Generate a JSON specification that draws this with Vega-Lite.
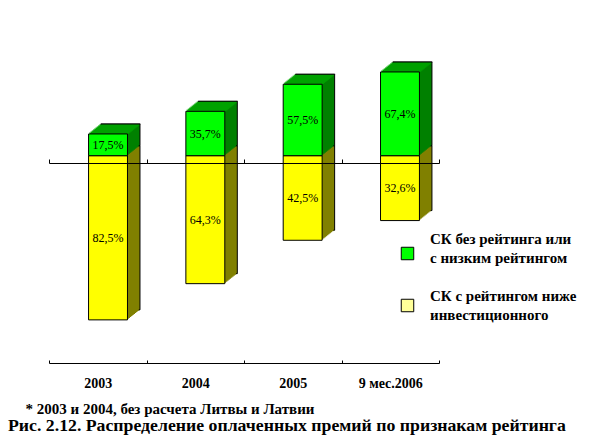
{
  "$schema": "https://vega.github.io/schema/vega-lite/v6.json",
  "width": 610,
  "height": 363,
  "autosize": {"type": "none"},
  "padding": {"left": 0, "top": 0, "right": 0, "bottom": 85},
  "config": {
    "view": {"stroke": null},
    "font": "Liberation Serif",
    "locale": {"number": {"decimal": ",", "thousands": "\u00a0", "grouping": [3], "currency": ["", "%"]}}
  },
  "title": {
    "text": "Рис. 2.12. Распределение оплаченных премий по признакам рейтинга",
    "orient": "bottom",
    "anchor": "start",
    "frame": "group",
    "offset": 1,
    "dx": 8,
    "font": "Liberation Serif",
    "fontSize": 17.75,
    "fontWeight": "bold",
    "color": "black"
  },
  "data": {
    "values": [
      {"year": "2003", "green": 17.5, "yellow": 82.5},
      {"year": "2004", "green": 35.7, "yellow": 64.3},
      {"year": "2005", "green": 57.5, "yellow": 42.5},
      {"year": "9 мес.2006", "green": 67.4, "yellow": 32.6}
    ]
  },
  "layer": [
    {
      "encoding": {
        "x": {"field": "year", "type": "nominal", "sort": null, "scale": {"range": [59.35, 448.65], "paddingInner": 0.6, "paddingOuter": 0.3}, "axis": null},
        "y": {"field": "yellow", "type": "quantitative", "scale": {"domain": [-78.24, 104.17], "reverse": true, "nice": false, "zero": false}, "axis": null},
        "y2": {"datum": 0}
      },
      "layer": [
        {"mark": {"type": "bar", "fill": "#808000", "stroke": "black", "strokeWidth": 1, "xOffset": 12.5, "x2Offset": 12.5, "yOffset": -10, "y2Offset": -10}},
        {"mark": {"type": "bar", "fill": "#808000", "xOffset": 11.25, "x2Offset": 11.25, "yOffset": -9, "y2Offset": -9}},
        {"mark": {"type": "bar", "fill": "#808000", "xOffset": 10, "x2Offset": 10, "yOffset": -8, "y2Offset": -8}},
        {"mark": {"type": "bar", "fill": "#808000", "xOffset": 8.75, "x2Offset": 8.75, "yOffset": -7, "y2Offset": -7}},
        {"mark": {"type": "bar", "fill": "#808000", "xOffset": 7.5, "x2Offset": 7.5, "yOffset": -6, "y2Offset": -6}},
        {"mark": {"type": "bar", "fill": "#808000", "xOffset": 6.25, "x2Offset": 6.25, "yOffset": -5, "y2Offset": -5}},
        {"mark": {"type": "bar", "fill": "#808000", "xOffset": 5, "x2Offset": 5, "yOffset": -4, "y2Offset": -4}},
        {"mark": {"type": "bar", "fill": "#808000", "xOffset": 3.75, "x2Offset": 3.75, "yOffset": -3, "y2Offset": -3}},
        {"mark": {"type": "bar", "fill": "#808000", "xOffset": 2.5, "x2Offset": 2.5, "yOffset": -2, "y2Offset": -2}},
        {"mark": {"type": "bar", "fill": "#808000", "xOffset": 1.25, "x2Offset": 1.25, "yOffset": -1, "y2Offset": -1}}
      ]
    },
    {
      "encoding": {
        "x": {"field": "year", "type": "nominal", "sort": null, "scale": {"range": [59.35, 448.65], "paddingInner": 0.6, "paddingOuter": 0.3}, "axis": null},
        "y": {"field": "green", "type": "quantitative", "scale": {"domain": [-166.84, 125.31], "nice": false, "zero": false}, "axis": null}
      },
      "layer": [
        {"mark": {"type": "bar", "fill": "#008000", "stroke": "black", "strokeWidth": 1, "xOffset": 12.5, "x2Offset": 12.5, "yOffset": -10, "y2Offset": -10}, "encoding": {"y2": {"datum": 0}}},
        {"mark": {"type": "bar", "fill": "#008000", "xOffset": 11.25, "x2Offset": 11.25, "yOffset": -9, "y2Offset": -9}, "encoding": {"y2": {"datum": 0}}},
        {"mark": {"type": "bar", "fill": "#008000", "xOffset": 10, "x2Offset": 10, "yOffset": -8, "y2Offset": -8}, "encoding": {"y2": {"datum": 0}}},
        {"mark": {"type": "bar", "fill": "#008000", "xOffset": 8.75, "x2Offset": 8.75, "yOffset": -7, "y2Offset": -7}, "encoding": {"y2": {"datum": 0}}},
        {"mark": {"type": "bar", "fill": "#008000", "xOffset": 7.5, "x2Offset": 7.5, "yOffset": -6, "y2Offset": -6}, "encoding": {"y2": {"datum": 0}}},
        {"mark": {"type": "bar", "fill": "#008000", "xOffset": 6.25, "x2Offset": 6.25, "yOffset": -5, "y2Offset": -5}, "encoding": {"y2": {"datum": 0}}},
        {"mark": {"type": "bar", "fill": "#008000", "xOffset": 5, "x2Offset": 5, "yOffset": -4, "y2Offset": -4}, "encoding": {"y2": {"datum": 0}}},
        {"mark": {"type": "bar", "fill": "#008000", "xOffset": 3.75, "x2Offset": 3.75, "yOffset": -3, "y2Offset": -3}, "encoding": {"y2": {"datum": 0}}},
        {"mark": {"type": "bar", "fill": "#008000", "xOffset": 2.5, "x2Offset": 2.5, "yOffset": -2, "y2Offset": -2}, "encoding": {"y2": {"datum": 0}}},
        {"mark": {"type": "bar", "fill": "#008000", "xOffset": 1.25, "x2Offset": 1.25, "yOffset": -1, "y2Offset": -1}, "encoding": {"y2": {"datum": 0}}},
        {"mark": {"type": "tick", "color": "#00aa00", "size": 40, "thickness": 1.6, "xOffset": 1.25, "yOffset": -1}},
        {"mark": {"type": "tick", "color": "#00aa00", "size": 40, "thickness": 1.6, "xOffset": 2.5, "yOffset": -2}},
        {"mark": {"type": "tick", "color": "#00aa00", "size": 40, "thickness": 1.6, "xOffset": 3.75, "yOffset": -3}},
        {"mark": {"type": "tick", "color": "#00aa00", "size": 40, "thickness": 1.6, "xOffset": 5, "yOffset": -4}},
        {"mark": {"type": "tick", "color": "#00aa00", "size": 40, "thickness": 1.6, "xOffset": 6.25, "yOffset": -5}},
        {"mark": {"type": "tick", "color": "#00aa00", "size": 40, "thickness": 1.6, "xOffset": 7.5, "yOffset": -6}},
        {"mark": {"type": "tick", "color": "#00aa00", "size": 40, "thickness": 1.6, "xOffset": 8.75, "yOffset": -7}},
        {"mark": {"type": "tick", "color": "#00aa00", "size": 40, "thickness": 1.6, "xOffset": 10, "yOffset": -8}},
        {"mark": {"type": "tick", "color": "#00aa00", "size": 40, "thickness": 1.6, "xOffset": 11.25, "yOffset": -9}},
        {"mark": {"type": "tick", "color": "black", "size": 40, "thickness": 1, "xOffset": 12.5, "yOffset": -10}}
      ]
    },
    {
      "mark": {"type": "bar", "fill": "#ffff00", "stroke": "black", "strokeWidth": 1},
      "encoding": {
        "x": {"field": "year", "type": "nominal", "sort": null, "scale": {"range": [59.35, 448.65], "paddingInner": 0.6, "paddingOuter": 0.3}, "axis": null},
        "y": {"field": "yellow", "type": "quantitative", "scale": {"domain": [-78.24, 104.17], "reverse": true, "nice": false, "zero": false}, "axis": null},
        "y2": {"datum": 0}
      }
    },
    {
      "mark": {"type": "bar", "fill": "#00ff00", "stroke": "black", "strokeWidth": 1},
      "encoding": {
        "x": {"field": "year", "type": "nominal", "sort": null, "scale": {"range": [59.35, 448.65], "paddingInner": 0.6, "paddingOuter": 0.3}, "axis": null},
        "y": {"field": "green", "type": "quantitative", "scale": {"domain": [-166.84, 125.31], "nice": false, "zero": false}, "axis": null},
        "y2": {"datum": 0}
      }
    },
    {
      "mark": {"type": "text", "font": "Liberation Serif", "fontSize": 12, "color": "black", "align": "center", "baseline": "middle"},
      "encoding": {
        "x": {"field": "year", "type": "nominal", "sort": null, "scale": {"range": [59.35, 448.65], "paddingInner": 0.6, "paddingOuter": 0.3}, "axis": null},
        "y": {"field": "yellow", "type": "quantitative", "scale": {"domain": [-156.48, 208.34], "reverse": true, "nice": false, "zero": false}, "axis": null},
        "text": {"field": "yellow", "type": "quantitative", "format": "$.1f"}
      }
    },
    {
      "mark": {"type": "text", "font": "Liberation Serif", "fontSize": 12, "color": "black", "align": "center", "baseline": "middle"},
      "encoding": {
        "x": {"field": "year", "type": "nominal", "sort": null, "scale": {"range": [59.35, 448.65], "paddingInner": 0.6, "paddingOuter": 0.3}, "axis": null},
        "y": {"field": "green", "type": "quantitative", "scale": {"domain": [-333.68, 250.62], "nice": false, "zero": false}, "axis": null},
        "text": {"field": "green", "type": "quantitative", "format": "$.1f"}
      }
    },
    {
      "mark": {"type": "point", "opacity": 0},
      "encoding": {
        "x": {"field": "year", "type": "nominal", "sort": null, "scale": {"range": [49, 439], "paddingInner": 0, "paddingOuter": 0},
          "axis": {"orient": "top", "offset": -163, "labels": false, "title": null, "tickBand": "extent", "tickSize": 4, "domainColor": "black", "tickColor": "black", "grid": false, "zindex": 1}}
      }
    },
    {
      "mark": {"type": "point", "opacity": 0},
      "encoding": {
        "x": {"field": "year", "type": "nominal", "sort": null, "scale": {"range": [49, 439], "paddingInner": 0, "paddingOuter": 0},
          "axis": {"orient": "bottom", "tickBand": "extent", "tickSize": -3, "labelAngle": 0, "labelPadding": 16,
            "labelFont": "Liberation Serif", "labelFontSize": 14, "labelFontWeight": "bold", "labelColor": "black",
            "domainColor": "black", "tickColor": "black", "grid": false,
            "title": "* 2003 и 2004, без расчета Литвы и Латвии", "titleX": 25, "titleY": 45, "titleAlign": "left", "titleBaseline": "middle", "titleAnchor": null,
            "titleFont": "Liberation Serif", "titleFontSize": 15, "titleFontWeight": "bold", "titleColor": "black"}}
      }
    },
    {
      "data": {"values": [
        {"series": "СК без рейтинга или|с низким рейтингом"},
        {"series": "СК с рейтингом ниже|инвестиционного"}
      ]},
      "mark": {"type": "square", "opacity": 0},
      "encoding": {
        "color": {
          "field": "series",
          "type": "nominal",
          "sort": null,
          "scale": {"range": ["#00ff00", "#ffff99"]},
          "legend": {
            "orient": "none", "legendX": 400, "legendY": 246, "title": null, "padding": 0,
            "symbolType": "square", "symbolSize": 156, "symbolStrokeColor": "black", "symbolStrokeWidth": 1, "symbolOpacity": 1,
            "labelFont": "Liberation Serif", "labelFontSize": 15, "labelFontWeight": "bold", "labelColor": "black",
            "labelExpr": "split(datum.label, '|')", "labelOffset": 15, "labelLimit": 0, "rowPadding": 22,
            "encode": {
              "labels": {"update": {"lineHeight": {"value": 19}, "dy": {"signal": "datum.index ? -10 : -15"}}}
            }
          }
        }
      }
    }
  ],
  "resolve": {"scale": {"x": "independent", "y": "independent"}}
}
